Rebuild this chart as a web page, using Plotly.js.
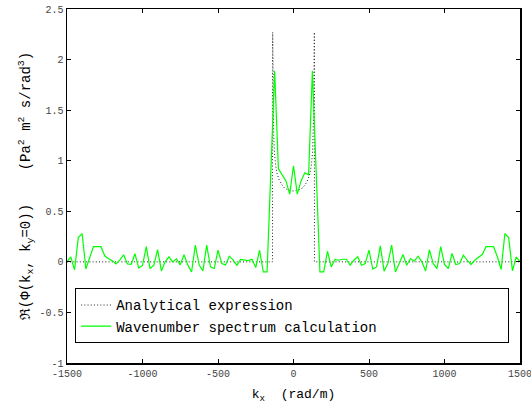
<!DOCTYPE html>
<html>
<head>
<meta charset="utf-8">
<script src="https://cdn.plot.ly/plotly-3.0.1.min.js"></script>
<style>html,body{margin:0;padding:0;background:#fff;}#chart{width:531px;height:406px;}</style>
</head>
<body>
<div id="chart"></div>
<script>
// Wavenumber grid (rad/m)
const kx = [-1500,-1475,-1450,-1425,-1400,-1375,-1350,-1325,-1300,-1275,-1250,-1225,-1200,-1175,-1150,-1125,-1100,-1075,-1050,-1025,
  -1000,-975,-950,-925,-900,-875,-850,-825,-800,-775,-750,-725,-700,-675,-650,-625,-600,-575,-550,-525,
  -500,-475,-450,-425,-400,-375,-350,-325,-300,-275,-250,-225,-200,-175,-150,-125,-100,-75,-50,-25,
  0,25,50,75,100,125,150,175,200,225,250,275,300,325,350,375,400,425,450,475,
  500,525,550,575,600,625,650,675,700,725,750,775,800,825,850,875,900,925,950,975,
  1000,1025,1050,1075,1100,1125,1150,1175,1200,1225,1250,1275,1300,1325,1350,1375,1400,1425,1450,1475,1500];
// Wavenumber spectrum calculation
const spectrum = [0,0.05,-0.08,0.24,0.28,-0.07,0.04,0.15,0.15,0.15,0.06,0.03,0.01,-0.02,0.02,0.07,-0.02,-0.025,0.08,-0.06,
  -0.035,0.15,-0.066,-0.033,0.12,-0.09,0.0,0.05,0.0,0.03,-0.03,0.07,-0.03,-0.1,0.165,-0.03,-0.09,0.165,-0.05,-0.066,
  0.115,-0.016,-0.03,0.056,0.02,-0.035,0.025,0.02,0.012,0.025,-0.056,0.115,-0.1,-0.1,0.88,1.89,0.92,0.86,0.80,0.67,
  0.95,0.67,0.80,0.88,0.86,1.89,0.9,-0.1,-0.1,0.105,-0.05,0.023,0.016,0.026,0.026,-0.033,0.016,0.05,-0.033,-0.016,
  0.115,-0.072,-0.05,0.158,-0.092,-0.016,0.165,-0.1,-0.016,0.072,-0.033,0.033,0.007,0.056,0.0,-0.09,0.12,-0.016,-0.066,0.15,
  -0.026,-0.066,0.083,-0.026,-0.016,0.066,0.016,-0.026,0.016,0.04,0.072,0.15,0.15,0.15,0.05,-0.076,0.28,0.24,-0.09,0.05,0];
// Analytical expression
const kxAnalytic = [-1500,-139,-138,-135,-131,-126,-118,-108,-95,-80,-60,-35,0,35,60,80,95,108,118,126,131,135,138,139,1500];
const analytic   = [0,0,2.27,1.55,1.25,1.08,0.95,0.87,0.81,0.77,0.73,0.71,0.70,0.71,0.73,0.77,0.81,0.87,0.95,1.08,1.25,1.55,2.27,0,0];

const xTickVals = [-1500,-1000,-500,0,500,1000,1500];
const xTickText = ['-1500','-1000','-500','0','500','1000','1500'];
const yTickVals = [-1,-0.5,0,0.5,1,1.5,2,2.5];
const yTickText = ['-1','-0.5','0','0.5','1','1.5','2','2.5'];

const legendNames = ['Analytical expression', 'Wavenumber spectrum calculation'];
const pad = '\u00a0'.repeat(15);

const mono = 'Liberation Mono';

const traces = [
  {x: kxAnalytic, y: analytic, type: 'scatter', mode: 'lines', name: legendNames[0],
   line: {color: '#222', width: 1, dash: '1px,2.2px'}},
  {x: kx, y: spectrum, type: 'scatter', mode: 'lines', name: legendNames[1] + pad,
   line: {color: '#00ff00', width: 1.2}}
];

const axisCommon = {
  showgrid: false, zeroline: false, showline: true, linecolor: '#000', linewidth: 1.5,
  mirror: 'ticks', ticks: 'inside', ticklen: 4, tickcolor: '#000', tickwidth: 1,
  tickfont: {family: mono, size: 10, color: '#444'}, tickmode: 'array', automargin: false,
  ticklabeloverflow: 'allow'
};

const layout = {
  width: 531, height: 406,
  margin: {l: 67, r: 11, t: 9, b: 43},
  font: {family: mono, size: 12, color: '#000'},
  paper_bgcolor: '#fff', plot_bgcolor: '#fff',
  showlegend: true,
  legend: {x: 0.018, y: 0.133, xanchor: 'left', yanchor: 'middle',
    bgcolor: '#fff', bordercolor: '#000', borderwidth: 1,
    font: {family: mono, size: 14, color: '#000'}, itemwidth: 30, tracegroupgap: 0},
  xaxis: Object.assign({}, axisCommon, {
    range: [-1500, 1500], tickvals: xTickVals, ticktext: xTickText,
    title: {text: 'k<sub>x</sub>\u00a0\u00a0(rad/m)', font: {family: mono, size: 13, color: '#000'}, standoff: 10}
  }),
  yaxis: Object.assign({}, axisCommon, {
    range: [-1, 2.5], tickvals: yTickVals, ticktext: yTickText,
    title: {text: '\u211c(\u03a6(k<sub>x</sub>,\u00a0k<sub>y</sub>=0))\u00a0\u00a0\u00a0\u00a0(Pa<sup>2</sup>\u00a0m<sup>2</sup>\u00a0s/rad<sup>3</sup>)',
      font: {family: mono, size: 14, color: '#000'}, standoff: 5}
  })
};

Plotly.newPlot('chart', traces, layout, {displayModeBar: false, staticPlot: true});
</script>
</body>
</html>
